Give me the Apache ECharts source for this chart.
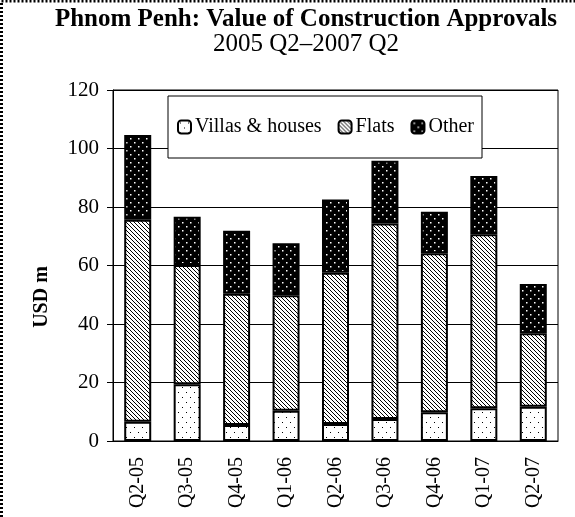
<!DOCTYPE html>
<html>
<head>
<meta charset="utf-8">
<title>Phnom Penh: Value of Construction Approvals</title>
<script src="https://cdn.jsdelivr.net/npm/echarts@6/dist/echarts.min.js"></script>
<style>
  html, body { margin: 0; padding: 0; background: #fff; }
  #main { width: 575px; height: 517px; }
</style>
</head>
<body>
<div id="main"></div>
<script>
  // quarters on the x axis
  var quarters = ['Q2-05', 'Q3-05', 'Q4-05', 'Q1-06', 'Q2-06', 'Q3-06', 'Q4-06', 'Q1-07', 'Q2-07']
  // USD m
  var villas = [6.6, 19.4, 5.5, 10.3, 5.8, 7.5, 9.8, 11.2, 11.7]
  var flats = [69.0, 40.8, 44.8, 39.5, 51.7, 66.9, 54.4, 59.5, 25.1]
  var other = [29.0, 16.5, 21.6, 17.8, 25.1, 21.4, 14.2, 19.9, 16.9]
  var yTicks = [0, 20, 40, 60, 80, 100, 120]

  var serif = 'Liberation Serif'

  // small canvas tiles used as bar fills
  function tile(w, h, bg, draw) {
    var c = document.createElement('canvas')
    c.width = w
    c.height = h
    var ctx = c.getContext('2d')
    ctx.fillStyle = bg
    ctx.fillRect(0, 0, w, h)
    draw(ctx)
    return { image: c, repeat: 'repeat' }
  }

  var dotsLight = tile(8, 10, '#fff', function (ctx) {
    ctx.fillStyle = '#000'
    ctx.fillRect(2, 2, 1, 1)
    ctx.fillRect(6, 7, 1, 1)
  })
  var stripes = tile(4, 4, '#fff', function (ctx) {
    ctx.strokeStyle = '#000'
    ctx.lineWidth = 1
    ctx.beginPath()
    ctx.moveTo(-1, -1); ctx.lineTo(5, 5)
    ctx.moveTo(-5, -1); ctx.lineTo(1, 5)
    ctx.moveTo(3, -1); ctx.lineTo(9, 5)
    ctx.stroke()
  })
  var dotsDark = tile(8, 8, '#000', function (ctx) {
    ctx.fillStyle = '#fff'
    ctx.fillRect(2, 2, 1.5, 1.5)
    ctx.fillRect(6, 6, 1.5, 1.5)
  })

  function barSeries(name, data, fill) {
    return {
      name: name,
      type: 'bar',
      stack: 'total',
      barWidth: 27,
      data: data,
      animation: false,
      itemStyle: {
        color: fill,
        borderColor: '#000',
        borderWidth: 2
      }
    }
  }

  var chart = echarts.init(document.getElementById('main'))
  chart.setOption({
    backgroundColor: '#fff',
    title: {
      text: 'Phnom Penh: Value of Construction Approvals',
      subtext: '2005 Q2\u20132007 Q2',
      left: 301,
      top: 2,
      textAlign: 'center',
      itemGap: 0,
      textStyle: { fontFamily: serif, fontWeight: 'bold', fontSize: 25, color: '#000' },
      subtextStyle: { fontFamily: serif, fontSize: 25, color: '#000' }
    },
    legend: {
      left: 168,
      top: 96,
      padding: [21, 8, 21, 9],
      itemWidth: 13,
      itemHeight: 13,
      itemGap: 16,
      backgroundColor: '#fff',
      borderColor: '#000',
      borderWidth: 1,
      textStyle: { fontFamily: serif, fontSize: 20, color: '#000', padding: [0, 0, 0, -1] },
      data: ['Villas & houses', 'Flats', 'Other']
    },
    grid: {
      left: 113,
      right: 17,
      top: 90,
      bottom: 76,
      show: true,
      borderColor: '#000',
      borderWidth: 1
    },
    xAxis: {
      type: 'category',
      data: quarters,
      axisLine: { lineStyle: { color: '#000', width: 1 } },
      axisTick: { length: 6, lineStyle: { color: '#000' } },
      axisLabel: {
        rotate: 90,
        margin: 16,
        fontFamily: serif,
        fontSize: 20,
        color: '#000'
      }
    },
    yAxis: {
      type: 'value',
      min: yTicks[0],
      max: yTicks[yTicks.length - 1],
      interval: 20,
      axisLine: { show: true, lineStyle: { color: '#000', width: 1 } },
      axisTick: { show: true, length: 6, lineStyle: { color: '#000' } },
      axisLabel: { margin: 14, fontFamily: serif, fontSize: 21, color: '#000' },
      splitLine: { lineStyle: { color: '#000', width: 1 } }
    },
    graphic: [
      {
        // dotted frame round the picture
        type: 'rect',
        shape: { x: 1.5, y: 1, width: 600, height: 540 },
        style: { fill: null, stroke: '#000', lineWidth: 3, lineDash: [2, 2] },
        silent: true
      },
      {
        type: 'text',
        x: 42,
        y: 297,
        rotation: Math.PI / 2,
        style: {
          text: 'USD m',
          fontFamily: serif,
          fontWeight: 'bold',
          fontSize: 20,
          fill: '#000',
          align: 'center',
          verticalAlign: 'middle'
        }
      }
    ],
    series: [
      barSeries('Villas & houses', villas, dotsLight),
      barSeries('Flats', flats, stripes),
      barSeries('Other', other, dotsDark)
    ]
  })
</script>
</body>
</html>
